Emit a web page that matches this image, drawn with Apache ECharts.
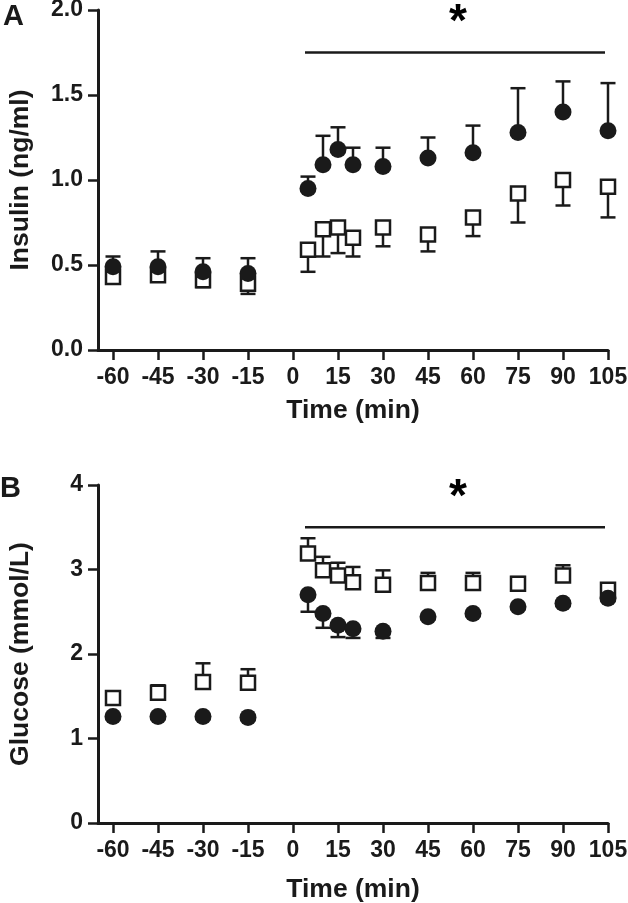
<!DOCTYPE html>
<html>
<head>
<meta charset="utf-8">
<script src="https://cdn.jsdelivr.net/npm/echarts@6/dist/echarts.min.js"></script>
<style>
html,body{margin:0;padding:0;background:#fff;}
#chart{width:628px;height:903px;}
</style>
</head>
<body>
<div id="chart"></div>
<script>
// ---- data ----
const times = [-60, -45, -30, -15, 5, 10, 15, 20, 30, 45, 60, 75, 90, 105];
const xTicks = [-60, -45, -30, -15, 0, 15, 30, 45, 60, 75, 90, 105];

// Panel A: insulin (ng/ml)
const insulinCircle    = [0.49, 0.49, 0.46, 0.45, 0.95, 1.09, 1.18, 1.09, 1.08, 1.13, 1.16, 1.28, 1.40, 1.29];
const insulinCircleSem = [0.06, 0.09, 0.08, 0.09, 0.07, 0.17, 0.13, 0.10, 0.11, 0.12, 0.16, 0.26, 0.18, 0.28];
const insulinSquare    = [0.43, 0.44, 0.41, 0.39, 0.59, 0.71, 0.72, 0.66, 0.72, 0.68, 0.78, 0.92, 1.00, 0.96];
const insulinSquareSem = [0.03, 0.03, 0.04, 0.06, 0.13, 0.16, 0.15, 0.11, 0.11, 0.10, 0.11, 0.17, 0.15, 0.18];

// Panel B: glucose (mmol/L)
const glucoseCircle    = [1.26, 1.26, 1.26, 1.25, 2.70, 2.48, 2.34, 2.30, 2.27, 2.44, 2.48, 2.56, 2.60, 2.66];
const glucoseCircleSem = [0.03, 0.03, 0.03, 0.03, 0.20, 0.17, 0.14, 0.11, 0.08, 0.03, 0.03, 0.03, 0.03, 0.03];
const glucoseSquare    = [1.48, 1.54, 1.67, 1.66, 3.19, 2.99, 2.93, 2.85, 2.82, 2.84, 2.84, 2.83, 2.93, 2.76];
const glucoseSquareSem = [0.04, 0.09, 0.22, 0.16, 0.18, 0.16, 0.15, 0.18, 0.17, 0.12, 0.12, 0.08, 0.12, 0.04];

// significance annotations
const sigLineA = [[4, 1.75], [104, 1.75]];
const sigStarA = [[55, 1.92]];
const sigLineB = [[4, 3.50], [104, 3.50]];
const sigStarB = [[55, 3.84]];

// ---- build ----
const INK = '#1a1a1a';
const FONT = '"Liberation Sans", Arial, Helvetica, sans-serif';

function pts(vals) { return times.map((t, i) => [t, vals[i]]); }
function errData(vals, sem, dir) { return times.map((t, i) => [t, vals[i], vals[i] + dir * sem[i]]); }

function errSeries(idx, data, z) {
  return {
    type: 'custom', xAxisIndex: idx, yAxisIndex: idx, z: z, silent: true,
    renderItem: function (params, api) {
      const p0 = api.coord([api.value(0), api.value(1)]);
      const p1 = api.coord([api.value(0), api.value(2)]);
      const hw = 7.5;
      return {
        type: 'group',
        children: [
          { type: 'line', shape: { x1: p0[0], y1: p0[1], x2: p1[0], y2: p1[1] }, style: { stroke: INK, lineWidth: 2.5 } },
          { type: 'line', shape: { x1: p1[0] - hw, y1: p1[1], x2: p1[0] + hw, y2: p1[1] }, style: { stroke: INK, lineWidth: 2.5 } }
        ]
      };
    },
    data: data
  };
}

function circleSeries(idx, data, z) {
  return { type: 'scatter', xAxisIndex: idx, yAxisIndex: idx, z: z, symbol: 'circle', symbolSize: 17,
    itemStyle: { color: INK, opacity: 1 }, data: data, silent: true };
}
function squareSeries(idx, data, z) {
  return { type: 'scatter', xAxisIndex: idx, yAxisIndex: idx, z: z, symbol: 'rect', symbolSize: 14,
    itemStyle: { color: '#fff', borderColor: INK, borderWidth: 2.5, opacity: 1 }, data: data, silent: true };
}
function sigLine(idx, data) {
  return { type: 'line', xAxisIndex: idx, yAxisIndex: idx, data: data, symbol: 'none', silent: true,
    lineStyle: { color: INK, width: 2.5 }, z: 5 };
}
function sigStar(idx, data) {
  return { type: 'scatter', xAxisIndex: idx, yAxisIndex: idx, data: data, symbolSize: 0, silent: true,
    itemStyle: { color: INK, opacity: 1 },
    label: { show: true, position: 'inside', formatter: '*', fontSize: 46, fontWeight: 'bold', color: '#000', opacity: 1, fontFamily: FONT }, z: 6 };
}

function xAxis(idx, gridIdx) {
  return {
    type: 'value', gridIndex: gridIdx, min: -65, max: 105,
    name: 'Time (min)', nameLocation: 'middle', nameGap: idx === 0 ? 47 : 53,
    nameTextStyle: { fontSize: 26.5, fontWeight: 'bold', color: INK, fontFamily: FONT },
    axisLine: { show: true, onZero: false, lineStyle: { color: INK, width: 3 } },
    axisTick: { show: true, length: 10, lineStyle: { color: INK, width: 2.5 }, customValues: xTicks },
    axisLabel: { show: true, margin: 16, fontSize: 23, fontWeight: 'bold', color: INK, fontFamily: FONT, customValues: xTicks },
    splitLine: { show: false }
  };
}
function yAxis(gridIdx, max, interval, name, dec) {
  return {
    type: 'value', gridIndex: gridIdx, min: 0, max: max, interval: interval,
    name: name, nameLocation: 'middle', nameGap: 64,
    nameTextStyle: { fontSize: 26.5, fontWeight: 'bold', color: INK, fontFamily: FONT },
    axisLine: { show: true, onZero: false, lineStyle: { color: INK, width: 3 } },
    axisTick: { show: true, length: 10, lineStyle: { color: INK, width: 2.5 } },
    axisLabel: { show: true, margin: 15, fontSize: 23, fontWeight: 'bold', color: INK, fontFamily: FONT,
      formatter: v => v.toFixed(dec) },
    splitLine: { show: false }
  };
}

const option = {
  backgroundColor: '#fff',
  animation: false,
  textStyle: { fontFamily: FONT },
  grid: [
    { left: 98, top: 10, width: 510, height: 340, outerBoundsMode: 'none', containLabel: false },
    { left: 98, top: 485, width: 510, height: 338, outerBoundsMode: 'none', containLabel: false }
  ],
  xAxis: [xAxis(0, 0), xAxis(1, 1)],
  yAxis: [yAxis(0, 2, 0.5, 'Insulin (ng/ml)', 1), yAxis(1, 4, 1, 'Glucose (mmol/L)', 0)],
  graphic: [
    { type: 'text', left: 3, top: 2, style: { text: 'A', font: 'bold 29px ' + FONT, fill: INK } },
    { type: 'text', left: 0, top: 474, style: { text: 'B', font: 'bold 29px ' + FONT, fill: INK } }
  ],
  series: [
    errSeries(0, errData(insulinSquare, insulinSquareSem, -1), 1),
    squareSeries(0, pts(insulinSquare), 2),
    errSeries(0, errData(insulinCircle, insulinCircleSem, 1), 3),
    circleSeries(0, pts(insulinCircle), 4),
    sigLine(0, sigLineA),
    sigStar(0, sigStarA),
    errSeries(1, errData(glucoseSquare, glucoseSquareSem, 1), 1),
    squareSeries(1, pts(glucoseSquare), 2),
    errSeries(1, errData(glucoseCircle, glucoseCircleSem, -1), 3),
    circleSeries(1, pts(glucoseCircle), 4),
    sigLine(1, sigLineB),
    sigStar(1, sigStarB)
  ]
};

const chart = echarts.init(document.getElementById('chart'), null, { renderer: 'canvas' });
chart.setOption(option);
</script>
</body>
</html>
